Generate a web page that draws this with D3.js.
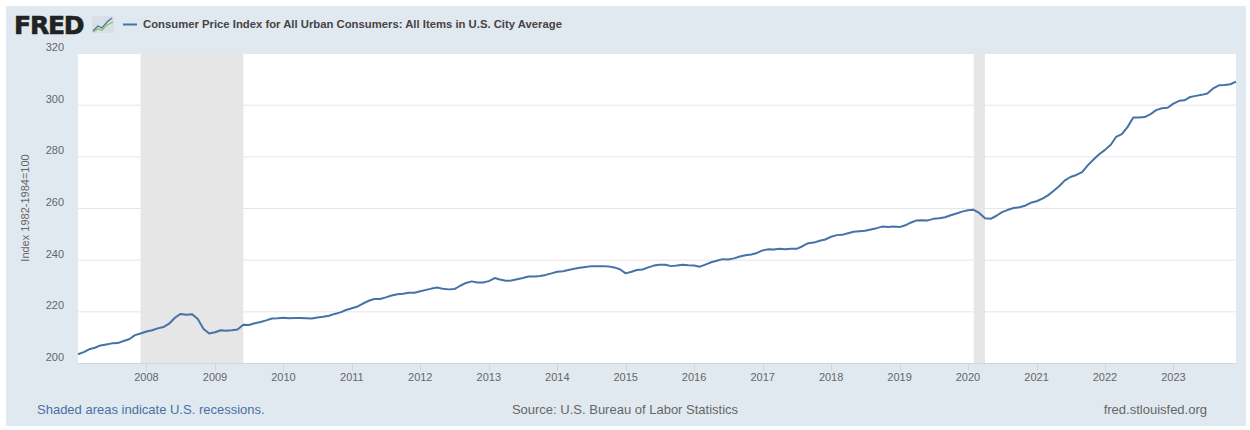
<!DOCTYPE html>
<html>
<head>
<meta charset="utf-8">
<script src="https://cdn.jsdelivr.net/npm/d3@7"></script>
<style>
  body { margin: 0; background: #fff; }
  text { font-family: "Liberation Sans", Arial, sans-serif; }
</style>
</head>
<body>
<div id="chart"></div>
<script>
/** FRED CPI chart *******************/

// Monthly CPI, Jan 2007 .. Dec 2023 (Index 1982-1984=100)
var startMonth = new Date(2007, 0, 1);
var cpiValues = [
    203.4, 204.2, 205.3, 205.9, 206.8, 207.2, 207.6, 207.7, 208.5, 209.2, 210.8, 211.4, // 2007
    212.2, 212.7, 213.4, 213.9, 215.2, 217.5, 219.0, 218.7, 218.9, 217.0, 213.2, 211.4, // 2008
    211.9, 212.7, 212.5, 212.7, 213.0, 214.8, 214.7, 215.4, 215.9, 216.5, 217.2, 217.3, // 2009
    217.5, 217.3, 217.4, 217.4, 217.3, 217.2, 217.6, 217.9, 218.3, 219.0, 219.6, 220.5, // 2010
    221.2, 221.9, 223.0, 224.1, 224.8, 224.8, 225.4, 226.1, 226.6, 226.8, 227.2, 227.2, // 2011
    227.8, 228.3, 228.8, 229.2, 228.7, 228.5, 228.6, 229.9, 231.0, 231.6, 231.2, 231.2, // 2012
    231.7, 232.9, 232.3, 231.8, 231.9, 232.4, 232.9, 233.5, 233.5, 233.7, 234.1, 234.7, // 2013
    235.3, 235.5, 236.0, 236.5, 236.9, 237.2, 237.5, 237.5, 237.5, 237.4, 237.0, 236.3, // 2014
    234.7, 235.3, 236.0, 236.2, 237.0, 237.7, 238.0, 238.0, 237.5, 237.7, 238.0, 237.8, // 2015
    237.7, 237.3, 238.1, 239.0, 239.6, 240.2, 240.1, 240.5, 241.2, 241.7, 242.0, 242.6, // 2016
    243.6, 244.0, 243.9, 244.2, 244.0, 244.2, 244.2, 245.2, 246.4, 246.6, 247.3, 247.8, // 2017
    248.9, 249.5, 249.6, 250.2, 250.8, 251.0, 251.2, 251.7, 252.2, 252.8, 252.6, 252.8, // 2018
    252.6, 253.3, 254.3, 255.2, 255.3, 255.2, 255.8, 256.0, 256.4, 257.2, 257.9, 258.6, // 2019
    259.1, 259.3, 258.1, 256.0, 255.8, 257.0, 258.4, 259.3, 260.0, 260.3, 260.9, 262.0, // 2020
    262.6, 263.6, 264.8, 266.6, 268.4, 270.7, 272.0, 272.8, 273.9, 276.5, 278.8, 280.8, // 2021
    282.5, 284.5, 287.5, 288.6, 291.3, 295.0, 295.0, 295.2, 296.3, 297.9, 298.6, 298.8, // 2022
    300.4, 301.5, 301.7, 303.0, 303.4, 303.8, 304.3, 306.3, 307.5, 307.6, 307.9, 308.9  // 2023
];

// NBER recessions [start, end]
var recessions = [
    [new Date(2007, 11, 1), new Date(2009, 5, 1)],
    [new Date(2020, 1, 1), new Date(2020, 3, 1)]
];

var yTicks = [200, 220, 240, 260, 280, 300, 320];
var xTickYears = d3.range(2008, 2024);

var titleText = "Consumer Price Index for All Urban Consumers: All Items in U.S. City Average";
var yLabelText = "Index 1982-1984=100";

//**************************************************/

var width = 1250;
var height = 430;
var plot = { left: 78, top: 53, right: 1236, bottom: 363 };
var lineColor = "#4572a7";

var data = cpiValues.map(function(v, i) {
    return { date: d3.timeMonth.offset(startMonth, i), value: v };
});

var x = d3.scaleTime()
    .domain([startMonth, data[data.length - 1].date])
    .range([plot.left, plot.right]);

var y = d3.scaleLinear()
    .domain([200, 320])
    .range([plot.bottom, plot.top]);

var svg = d3.select("#chart").append("svg")
    .attr("width", width)
    .attr("height", height);

// Panel background
svg.append("rect")
    .attr("x", 6).attr("y", 6)
    .attr("width", 1240).attr("height", 420)
    .attr("fill", "#e1e9f0");

// Plot area
svg.append("rect")
    .attr("x", plot.left).attr("y", plot.top)
    .attr("width", plot.right - plot.left)
    .attr("height", plot.bottom - plot.top)
    .attr("fill", "#ffffff");

// Recession shading
svg.selectAll(".recession")
    .data(recessions)
  .enter().append("rect")
    .attr("class", "recession")
    .attr("x", function(d) { return x(d[0]); })
    .attr("y", plot.top)
    .attr("width", function(d) { return x(d[1]) - x(d[0]); })
    .attr("height", plot.bottom - plot.top)
    .attr("fill", "#e6e6e6");

// Horizontal grid
svg.selectAll(".grid")
    .data(yTicks.slice(1))
  .enter().append("line")
    .attr("class", "grid")
    .attr("x1", plot.left).attr("x2", plot.right)
    .attr("y1", function(d) { return y(d) + 0.5; })
    .attr("y2", function(d) { return y(d) + 0.5; })
    .attr("stroke", "#e6e6e6")
    .attr("stroke-width", 1);

// Y labels (sit a little above their grid line, like FRED)
svg.selectAll(".ylab")
    .data(yTicks)
  .enter().append("text")
    .attr("class", "ylab")
    .attr("x", 64)
    .attr("y", function(d) { return y(d) - 2; })
    .attr("text-anchor", "end")
    .attr("font-size", 11)
    .attr("fill", "#666666")
    .text(function(d) { return d; });

// Y axis title
svg.append("text")
    .attr("transform", "translate(29," + ((plot.top + plot.bottom) / 2) + ") rotate(-90)")
    .attr("text-anchor", "middle")
    .attr("font-size", 11)
    .attr("fill", "#666666")
    .text(yLabelText);

// X axis line + ticks
svg.append("line")
    .attr("x1", plot.left).attr("x2", plot.right)
    .attr("y1", plot.bottom + 0.5).attr("y2", plot.bottom + 0.5)
    .attr("stroke", "#ccd6eb");

var xTickDates = xTickYears.map(function(yr) { return new Date(yr, 0, 1); });

svg.selectAll(".xtick")
    .data(xTickDates)
  .enter().append("line")
    .attr("class", "xtick")
    .attr("x1", function(d) { return Math.round(x(d)) + 0.5; })
    .attr("x2", function(d) { return Math.round(x(d)) + 0.5; })
    .attr("y1", plot.bottom)
    .attr("y2", plot.bottom + 8)
    .attr("stroke", "#ccd6eb");

svg.selectAll(".xlab")
    .data(xTickDates)
  .enter().append("text")
    .attr("class", "xlab")
    .attr("x", function(d) { return x(d); })
    .attr("y", plot.bottom + 18)
    .attr("text-anchor", "middle")
    .attr("font-size", 11)
    .attr("fill", "#666666")
    .text(function(d) { return d.getFullYear(); });

// The series
var line = d3.line()
    .x(function(d) { return x(d.date); })
    .y(function(d) { return y(d.value); });

svg.append("path")
    .datum(data)
    .attr("d", line)
    .attr("fill", "none")
    .attr("stroke", lineColor)
    .attr("stroke-width", 2)
    .attr("stroke-linejoin", "round");

// Header: FRED logo, small icon, legend
svg.append("text")
    .attr("x", 14).attr("y", 34)
    .attr("font-size", 25)
    .attr("font-weight", "900")
    .attr("letter-spacing", -1.2)
    .attr("fill", "#222222")
    .attr("stroke", "#222222")
    .attr("stroke-width", 0.6)
    .style("font-family", "'DejaVu Sans', sans-serif")
    .text("FRED");

var icon = svg.append("g").attr("transform", "translate(92,16)");
icon.append("rect")
    .attr("width", 22).attr("height", 17)
    .attr("fill", "#d8dfe6");
icon.append("polyline")
    .attr("points", "1,15 6,10 10,12 15,6 20,2")
    .attr("fill", "none").attr("stroke", "#4572a7").attr("stroke-width", 1.2);
icon.append("polyline")
    .attr("points", "1,16 6,13 10,14 15,9 21,6")
    .attr("fill", "none").attr("stroke", "#8fbf5a").attr("stroke-width", 1.2);

svg.append("line")
    .attr("x1", 123).attr("x2", 137)
    .attr("y1", 24.5).attr("y2", 24.5)
    .attr("stroke", lineColor)
    .attr("stroke-width", 2);

svg.append("text")
    .attr("x", 143).attr("y", 28)
    .attr("font-size", 11.3)
    .attr("font-weight", "bold")
    .attr("fill", "#444444")
    .text(titleText);

// Footer
svg.append("text")
    .attr("x", 37).attr("y", 414)
    .attr("font-size", 13)
    .attr("fill", "#4a6fa5")
    .text("Shaded areas indicate U.S. recessions.");

svg.append("text")
    .attr("x", 625).attr("y", 414)
    .attr("text-anchor", "middle")
    .attr("font-size", 13)
    .attr("fill", "#666666")
    .text("Source: U.S. Bureau of Labor Statistics");

svg.append("text")
    .attr("x", 1207).attr("y", 414)
    .attr("text-anchor", "end")
    .attr("font-size", 13)
    .attr("fill", "#666666")
    .text("fred.stlouisfed.org");
</script>
</body>
</html>
